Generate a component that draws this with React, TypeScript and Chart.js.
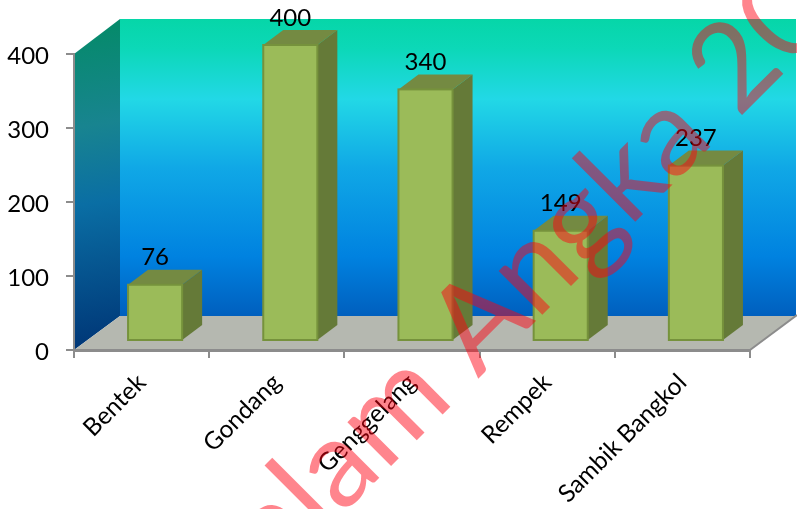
import React, { useEffect, useRef } from "react";
import { Chart, registerables } from "chart.js";

Chart.register(...registerables);

const categories = ["Bentek", "Gondang", "Genggelang", "Rempek", "Sambik Bangkol"];
const values = [76, 400, 340, 149, 237];
const yTicks = [0, 100, 200, 300, 400];

const FONT = "Lato, Carlito, 'Noto Sans', sans-serif";
const DEPTH_X = 46;
const DEPTH_Y = 34;
const BAR_SHIFT_X = 13.5;
const BAR_SHIFT_Y = -9;
const SIDE_X = 20;
const SIDE_Y = 15;

const poly = (ctx: CanvasRenderingContext2D, pts: number[][], fill: any) => {
  ctx.beginPath();
  pts.forEach(([x, y], i) => (i ? ctx.lineTo(x, y) : ctx.moveTo(x, y)));
  ctx.closePath();
  ctx.fillStyle = fill;
  ctx.fill();
};

const walls = {
  id: "walls",
  beforeDraw(chart: any) {
    const { ctx, chartArea: a } = chart;
    const L = a.left, R = a.right, T = a.top, B = a.bottom;
    ctx.save();
    const backTop = T - DEPTH_Y - 1;
    const backBot = B - DEPTH_Y;
    const g = ctx.createLinearGradient(0, backTop, 0, backBot);
    g.addColorStop(0, "#06d6a8");
    g.addColorStop(0.1, "#0cd8b8");
    g.addColorStop(0.27, "#22d8e6");
    g.addColorStop(0.5, "#10a8e6");
    g.addColorStop(0.8, "#0082e0");
    g.addColorStop(1, "#005fbe");
    poly(ctx, [[L + DEPTH_X, backTop], [R + DEPTH_X, backTop], [R + DEPTH_X, backBot], [L + DEPTH_X, backBot]], g);
    const s = ctx.createLinearGradient(L, T - 20, L + DEPTH_X, B - 10);
    s.addColorStop(0, "#068a6c");
    s.addColorStop(0.3, "#188490");
    s.addColorStop(0.55, "#0a6ea4");
    s.addColorStop(1, "#003878");
    poly(ctx, [[L, T], [L + DEPTH_X, backTop], [L + DEPTH_X, backBot], [L, B]], s);
    poly(ctx, [[L, B], [L + DEPTH_X, backBot], [R + DEPTH_X, backBot], [R, B]], "#b5b8b0");
    ctx.strokeStyle = "#8c8c8c";
    ctx.lineWidth = 2;
    ctx.beginPath();
    ctx.moveTo(R, B);
    ctx.lineTo(R + DEPTH_X + 1, backBot - 1);
    ctx.stroke();
    ctx.restore();
  },
};

const bars3d = {
  id: "bars3d",
  beforeDatasetsDraw(chart: any) {
    const { ctx } = chart;
    ctx.save();
    ctx.translate(BAR_SHIFT_X, BAR_SHIFT_Y);
    chart.getDatasetMeta(0).data.forEach((bar: any) => {
      const half = bar.width / 2;
      const l = bar.x - half, r = bar.x + half, t = bar.y, b = bar.base;
      poly(ctx, [[r, t], [r + SIDE_X, t - SIDE_Y], [r + SIDE_X, b - SIDE_Y], [r, b]], "#657a38");
      poly(ctx, [[l, t], [l + SIDE_X, t - SIDE_Y], [r + SIDE_X, t - SIDE_Y], [r, t]], "#748a42");
    });
  },
  afterDatasetsDraw(chart: any) {
    const { ctx } = chart;
    ctx.strokeStyle = "#76923c";
    ctx.lineWidth = 2;
    chart.getDatasetMeta(0).data.forEach((bar: any) => {
      const half = bar.width / 2;
      ctx.strokeRect(bar.x - half, bar.y, bar.width, bar.base - bar.y);
    });
    ctx.restore();
    ctx.save();
    ctx.fillStyle = "#000";
    ctx.font = `24px ${FONT}`;
    ctx.textAlign = "center";
    ctx.textBaseline = "middle";
    chart.getDatasetMeta(0).data.forEach((bar: any, i: number) => {
      ctx.fillText(String(values[i]), bar.x + BAR_SHIFT_X, bar.y + BAR_SHIFT_Y - 27);
    });
    ctx.restore();
  },
};

const watermark = {
  id: "watermark",
  afterDraw(chart: any) {
    const { ctx } = chart;
    ctx.save();
    ctx.translate(478, 379);
    ctx.rotate(-Math.PI / 4);
    ctx.fillStyle = "rgba(255, 0, 16, 0.48)";
    ctx.font = `400 122px ${FONT}`;
    ctx.textBaseline = "alphabetic";
    ctx.textAlign = "right";
    ctx.fillText("Dalam ", 0, 0);
    ctx.textAlign = "left";
    ctx.fillText("Angka 20", 0, 0);
    ctx.restore();
  },
};

export default function App() {
  const ref = useRef<HTMLCanvasElement>(null);
  useEffect(() => {
    const chart = new Chart(ref.current!, {
      type: "bar",
      data: {
        labels: categories,
        datasets: [
          {
            data: values,
            backgroundColor: "#9bbb59",
            borderWidth: 0,
            barPercentage: 0.4,
            categoryPercentage: 1,
            clip: false as any,
          },
        ],
      },
      options: {
        animation: false,
        responsive: false,
        layout: { padding: { top: 54, right: 47, left: 0, bottom: 0 } },
        plugins: { legend: { display: false }, tooltip: { enabled: false } },
        scales: {
          x: {
            afterFit: (s: any) => { s.height = 159; },
            grid: { drawOnChartArea: false, color: "#8c8c8c", lineWidth: 2, tickLength: 8 },
            border: { color: "#8c8c8c", width: 3 },
            ticks: {
              color: "#000",
              font: { family: FONT, size: 24.5 },
              minRotation: 45,
              maxRotation: 45,
              autoSkip: false,
              padding: 10,
            },
          },
          y: {
            min: 0,
            max: 400,
            afterFit: (s: any) => { s.width = 74; },
            afterBuildTicks: (s: any) => { s.ticks = yTicks.map((value) => ({ value })); },
            grid: { drawOnChartArea: false, color: "#8c8c8c", lineWidth: 2, tickLength: 8 },
            border: { color: "#8c8c8c", width: 2 },
            ticks: { color: "#000", font: { family: FONT, size: 24 }, padding: 17, labelOffset: 2 },
          },
        },
      },
      plugins: [walls, bars3d, watermark],
    });
    return () => chart.destroy();
  }, []);
  return (
    <canvas
      ref={ref}
      width={797}
      height={509}
      style={{ position: "fixed", left: 0, top: 0, width: 797, height: 509, display: "block" }}
    />
  );
}
